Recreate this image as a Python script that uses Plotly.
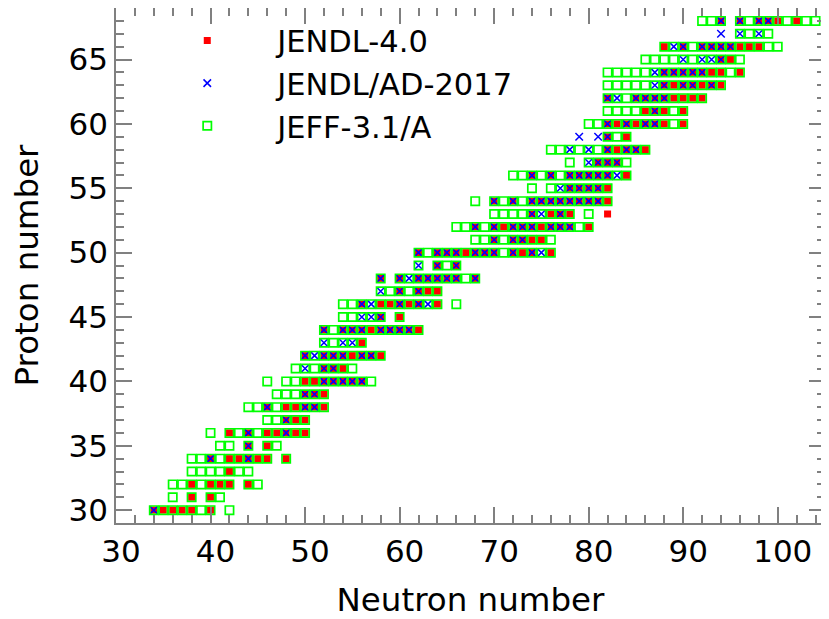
import plotly.graph_objects as go

# Nuclides per library: proton number Z -> list of neutron numbers N
jendl4_rows = {
    30: [34, 35, 36, 37, 38, 40],
    31: [38, 40],
    32: [38, 40, 41, 42, 44],
    33: [42],
    34: [40, 42, 43, 44, 45, 46, 48],
    35: [44, 46],
    36: [42, 44, 46, 47, 48, 49, 50],
    37: [48, 49, 50],
    38: [46, 48, 49, 50, 51, 52],
    39: [50, 51, 52],
    40: [50, 51, 52, 53, 54, 55, 56],
    41: [52, 53, 54],
    42: [50, 52, 53, 54, 55, 56, 57, 58],
    43: [56],
    44: [52, 54, 55, 56, 57, 58, 59, 60, 61, 62],
    45: [58, 60],
    46: [56, 58, 59, 60, 61, 62, 64],
    47: [60, 62, 63, 64],
    48: [58, 60, 62, 63, 64, 65, 66, 68],
    49: [64, 66],
    50: [62, 64, 65, 66, 67, 68, 69, 70, 72, 73, 74, 76],
    51: [70, 72, 73, 74, 75],
    52: [68, 70, 71, 72, 73, 74, 75, 76, 77, 78, 80],
    53: [74, 76, 77, 78, 82],
    54: [70, 72, 74, 75, 76, 77, 78, 79, 80, 81, 82],
    55: [78, 79, 80, 81, 82],
    56: [74, 76, 78, 79, 80, 81, 82, 84],
    57: [81, 82, 83],
    58: [82, 83, 84, 85, 86],
    59: [82, 84],
    60: [82, 83, 84, 85, 86, 87, 88, 90],
    61: [86, 87, 88, 90],
    62: [82, 85, 86, 87, 88, 89, 90, 91, 92],
    63: [88, 89, 90, 91, 92, 93, 94],
    64: [88, 89, 90, 91, 92, 93, 94, 96],
    65: [94, 95],
    66: [88, 90, 92, 93, 94, 95, 96, 97, 98],
    68: [94, 96, 98, 99, 100, 102],
}

jendlad_rows = {
    30: [34],
    34: [40, 44],
    35: [44],
    36: [44, 48],
    37: [48],
    38: [46, 50, 51],
    39: [50, 51],
    40: [52, 53, 54, 55, 56],
    41: [50, 52, 53],
    42: [50, 51, 52, 53, 54, 56, 57],
    43: [52, 54, 55],
    44: [52, 54, 55, 56, 58, 59, 60, 61],
    45: [56, 57, 58],
    46: [56, 57, 60, 62, 63],
    47: [58, 60, 62],
    48: [58, 60, 61, 62, 63, 64, 65, 66, 68],
    49: [62, 64, 66],
    50: [62, 64, 65, 66, 68, 69, 70, 72, 74, 75],
    51: [70, 72, 73],
    52: [68, 70, 72, 73, 74, 76, 77, 78],
    53: [74, 75, 77],
    54: [70, 72, 74, 75, 76, 77, 78, 79, 80, 81],
    55: [77, 78, 79, 80, 81],
    56: [74, 76, 78, 79, 80, 81, 82, 83],
    57: [80, 81, 82, 83],
    58: [78, 80, 82, 84, 85],
    59: [79, 81, 82],
    60: [82, 84, 86, 87],
    61: [87],
    62: [82, 83, 85, 86, 87, 88],
    63: [87, 88, 90, 91, 93],
    64: [87, 88, 89, 90, 91, 92],
    65: [90, 92, 93, 94],
    66: [89, 90, 92, 93, 94, 95],
    67: [94, 96, 98],
    68: [94, 96, 98, 99],
}

jeff_rows = {
    30: [34, 35, 36, 37, 38, 39, 40, 42],
    31: [36, 38, 40, 41],
    32: [36, 37, 38, 39, 40, 41, 42, 44, 45],
    33: [38, 39, 40, 41, 42, 43, 44],
    34: [38, 39, 40, 41, 42, 43, 44, 45, 46, 48],
    35: [41, 42, 44, 46, 47],
    36: [40, 42, 43, 44, 45, 46, 47, 48, 49, 50],
    37: [46, 47, 48, 49, 50],
    38: [44, 45, 46, 47, 48, 49, 50, 51, 52],
    39: [47, 48, 49, 50, 51, 52],
    40: [46, 48, 49, 50, 51, 52, 53, 54, 55, 56, 57],
    41: [49, 50, 51, 52, 53, 54, 55],
    42: [50, 51, 52, 53, 54, 55, 56, 57, 58],
    43: [52, 53, 54, 55, 56],
    44: [52, 53, 54, 55, 56, 57, 58, 59, 60, 61, 62],
    45: [54, 55, 56, 57, 58, 60],
    46: [54, 55, 56, 57, 58, 59, 60, 61, 62, 63, 64, 66],
    47: [58, 59, 60, 61, 62, 63, 64],
    48: [58, 60, 61, 62, 63, 64, 65, 66, 67, 68],
    49: [62, 64, 65, 66],
    50: [62, 63, 64, 65, 66, 67, 68, 69, 70, 71, 72, 73, 74, 75, 76],
    51: [68, 69, 70, 71, 72, 73, 74, 75, 76],
    52: [66, 67, 68, 69, 70, 71, 72, 73, 74, 75, 76, 77, 78, 79, 80],
    53: [70, 71, 72, 73, 74, 75, 76, 77, 78, 80],
    54: [68, 70, 71, 72, 73, 74, 75, 76, 77, 78, 79, 80, 81, 82],
    55: [74, 76, 77, 78, 79, 80, 81, 82],
    56: [72, 73, 74, 75, 76, 77, 78, 79, 80, 81, 82, 83, 84],
    57: [78, 80, 81, 82, 83, 84],
    58: [76, 77, 78, 79, 80, 81, 82, 83, 84, 85, 86],
    59: [82, 83, 84],
    60: [80, 81, 82, 83, 84, 85, 86, 87, 88, 89, 90],
    61: [82, 83, 84, 85, 86, 87, 88, 89, 90],
    62: [82, 83, 84, 85, 86, 87, 88, 89, 90, 91, 92],
    63: [82, 83, 84, 85, 86, 87, 88, 89, 90, 91, 92, 93, 94],
    64: [82, 83, 84, 85, 86, 87, 88, 89, 90, 91, 92, 93, 94, 95, 96],
    65: [86, 87, 88, 89, 90, 91, 92, 93, 94, 95, 96],
    66: [88, 89, 90, 91, 92, 93, 94, 95, 96, 97, 98, 99, 100],
    67: [96, 97, 98, 99],
    68: [92, 93, 94, 96, 97, 98, 99, 100, 101, 102, 103, 104],
}

x_tickvals = [30, 40, 50, 60, 70, 80, 90, 100]
y_tickvals = [30, 35, 40, 45, 50, 55, 60, 65]


def expand(rows):
    xs, ys = [], []
    for z, ns in rows.items():
        for n in ns:
            xs.append(n)
            ys.append(z)
    return xs, ys


fig = go.Figure()

x, y = expand(jendl4_rows)
fig.add_trace(go.Scatter(
    x=x, y=y, mode="markers", name="JENDL-4.0",
    marker=dict(symbol="square", size=7, color="#ff0000", line=dict(width=0)),
))

x, y = expand(jendlad_rows)
fig.add_trace(go.Scatter(
    x=x, y=y, mode="markers", name="JENDL/AD-2017",
    marker=dict(symbol="x-thin", size=7.5, color="#0000ff",
                line=dict(width=1.5, color="#0000ff")),
))

x, y = expand(jeff_rows)
fig.add_trace(go.Scatter(
    x=x, y=y, mode="markers", name="JEFF-3.1/A",
    marker=dict(symbol="square-open", size=8.3, color="#00ff00",
                line=dict(width=1.7, color="#00ff00")),
))

axis_col = "#808080"
common = dict(
    showline=True, linecolor=axis_col, linewidth=1.5, mirror="ticks",
    ticks="inside", ticklen=16, tickwidth=1.5, tickcolor=axis_col,
    showgrid=False, zeroline=False,
    tickfont=dict(size=31, color="black", family="DejaVu Sans"),
)

fig.update_xaxes(
    range=[30, 105], tickmode="array", tickvals=x_tickvals,
    ticklabelshift=5,
    minor=dict(dtick=2, tick0=30, ticks="inside", ticklen=8, tickwidth=1.5,
               tickcolor=axis_col),
    title=dict(text="Neutron number", font=dict(size=32.5, family="DejaVu Sans"),
               standoff=22),
    **common,
)
fig.update_yaxes(
    range=[29, 69], tickmode="array", tickvals=y_tickvals,
    minor=dict(dtick=1, tick0=29, ticks="inside", ticklen=8, tickwidth=1.5,
               tickcolor=axis_col),
    title=dict(text="Proton number", font=dict(size=32.5, family="DejaVu Sans"),
               standoff=24),
    **common,
)

# the page body adds an 8px offset, so the figure is 8px smaller
fig.update_layout(
    width=821, height=611,
    margin=dict(l=108, r=4, t=0, b=96, autoexpand=False),
    paper_bgcolor="white", plot_bgcolor="white",
    font=dict(family="DejaVu Sans", size=31, color="black"),
    showlegend=True,
    legend=dict(x=0.03, y=0.988, xanchor="left", yanchor="top",
                bgcolor="rgba(0,0,0,0)", font=dict(size=30.5, color="black"),
                itemwidth=130, tracegroupgap=0),
)

fig.write_html("out.html")
